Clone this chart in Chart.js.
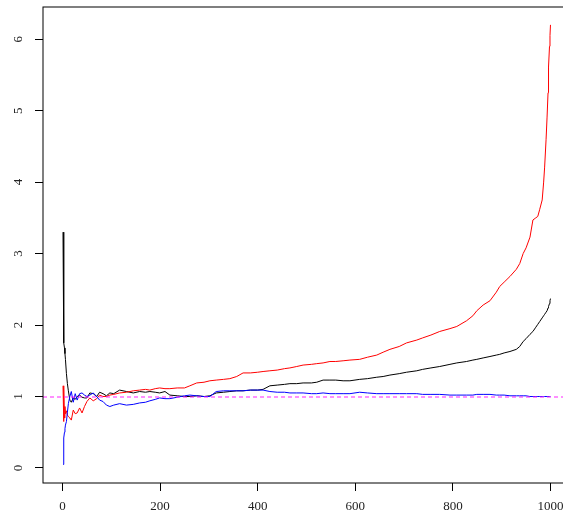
<!DOCTYPE html>
<html>
<head>
<meta charset="utf-8">
<script src="https://cdn.jsdelivr.net/npm/chart.js@4/dist/chart.umd.min.js"></script>
<style>
  html, body { margin: 0; padding: 0; background: #fff; overflow: hidden; }
  #wrap { width: 600px; height: 519px; }
</style>
</head>
<body>
<div id="wrap"><canvas id="c" width="600" height="519"></canvas></div>
<script>
const iters = [1, 2, 3, 4, 5, 6, 8, 10, 12, 15, 18, 22, 26, 30, 35, 40, 45, 50, 56, 63,
  70, 76, 83, 90, 97, 105, 117, 131, 145, 158, 170, 179, 190, 199, 210, 220, 235, 250, 261, 275,
  290, 302, 315, 330, 343, 357, 370, 385, 400, 411, 425, 440, 455, 466, 480, 493, 510, 521, 534, 548,
  560, 575, 589, 609, 625, 644, 657, 671, 690, 705, 726, 738, 755, 773, 794, 808, 828, 841, 849, 862,
  876, 889, 896, 905, 917, 930, 937, 944, 950, 958, 964, 970, 974, 978, 983, 986, 988, 991, 993, 995,
  996, 998, 999, 1000];

const blackVals = [3.30, 1.90, 1.75, 1.68, 1.60, 1.52, 1.32, 1.18, 1.08, 0.95, 0.92, 0.98, 0.96, 1.00, 1.02, 0.99, 0.98, 0.98, 1.05, 1.04,
  1.00, 1.06, 1.04, 1.01, 1.05, 1.04, 1.09, 1.07, 1.05, 1.07, 1.06, 1.07, 1.06, 1.05, 1.07, 1.02, 1.01, 1.00, 1.00, 1.01,
  1.00, 1.01, 1.05, 1.06, 1.07, 1.08, 1.08, 1.09, 1.09, 1.10, 1.15, 1.16, 1.17, 1.18, 1.18, 1.19, 1.19, 1.20, 1.23, 1.23,
  1.23, 1.22, 1.22, 1.24, 1.25, 1.27, 1.28, 1.30, 1.32, 1.34, 1.36, 1.38, 1.40, 1.42, 1.45, 1.47, 1.49, 1.51, 1.52, 1.54,
  1.56, 1.58, 1.59, 1.61, 1.63, 1.66, 1.70, 1.77, 1.81, 1.87, 1.91, 1.97, 2.01, 2.05, 2.10, 2.13, 2.15, 2.18, 2.20, 2.24,
  2.26, 2.30, 2.34, 2.37];

const redVals = [1.15, 0.65, 1.12, 0.70, 0.86, 0.76, 0.80, 0.74, 0.72, 0.70, 0.67, 0.81, 0.76, 0.77, 0.84, 0.77, 0.86, 0.93, 0.98, 0.94,
  0.97, 1.02, 1.00, 1.00, 1.02, 1.03, 1.05, 1.06, 1.08, 1.09, 1.10, 1.09, 1.11, 1.12, 1.11, 1.11, 1.12, 1.12, 1.15, 1.19,
  1.20, 1.22, 1.23, 1.24, 1.25, 1.28, 1.33, 1.33, 1.34, 1.35, 1.36, 1.37, 1.39, 1.40, 1.42, 1.44, 1.45, 1.46, 1.47, 1.49,
  1.49, 1.50, 1.51, 1.52, 1.55, 1.58, 1.62, 1.66, 1.70, 1.75, 1.79, 1.82, 1.86, 1.91, 1.95, 1.98, 2.06, 2.13, 2.20, 2.28,
  2.34, 2.46, 2.54, 2.60, 2.68, 2.78, 2.86, 3.00, 3.08, 3.23, 3.47, 3.50, 3.52, 3.62, 3.75, 4.00, 4.21, 4.60, 4.91, 5.25,
  5.61, 5.90, 6.05, 6.20];

const blueVals = [0.05, 0.30, 0.42, 0.50, 0.55, 0.60, 0.65, 0.78, 0.90, 1.00, 1.07, 0.92, 1.04, 0.95, 1.04, 1.05, 1.02, 1.00, 1.02, 1.05,
  1.00, 0.95, 0.93, 0.88, 0.86, 0.88, 0.90, 0.88, 0.89, 0.91, 0.92, 0.94, 0.96, 0.98, 0.97, 0.97, 0.99, 1.01, 1.02, 1.01,
  1.00, 1.00, 1.07, 1.08, 1.08, 1.08, 1.08, 1.09, 1.09, 1.09, 1.07, 1.06, 1.06, 1.05, 1.05, 1.05, 1.04, 1.04, 1.05, 1.04,
  1.04, 1.04, 1.04, 1.06, 1.05, 1.04, 1.04, 1.04, 1.04, 1.04, 1.04, 1.03, 1.03, 1.03, 1.02, 1.02, 1.02, 1.02, 1.03, 1.03,
  1.03, 1.02, 1.02, 1.02, 1.01, 1.01, 1.01, 1.01, 1.01, 1.00, 1.00, 1.00, 1.00, 1.00, 1.00, 1.00, 1.00, 1.00, 1.00, 1.00,
  1.00, 1.00, 1.00, 1.00];

const xTicks = [0, 200, 400, 600, 800, 1000];
const yTicks = [0, 1, 2, 3, 4, 5, 6];
const refLevel = 1;

const FONT = { family: "'Liberation Serif', 'DejaVu Serif', serif", size: 13 };
const toPoints = vals => vals.map((v, i) => ({ x: iters[i], y: v }));

// R-ish frame: box, rotated y labels, dashed reference line
const rFrame = {
  id: 'rFrame',
  afterDatasetsDraw(chart) {
    const { ctx, chartArea: a, scales } = chart;
    const y = Math.round(scales.y.getPixelForValue(refLevel));
    ctx.save();
    ctx.strokeStyle = '#ff22ff';
    ctx.lineWidth = 1.2;
    ctx.setLineDash([4, 3]);
    ctx.beginPath();
    ctx.moveTo(a.left, y);
    ctx.lineTo(a.right, y);
    ctx.stroke();
    ctx.restore();
  },
  afterDraw(chart) {
    const { ctx, chartArea: a, scales } = chart;
    ctx.save();
    ctx.strokeStyle = '#000';
    ctx.lineWidth = 1;
    ctx.strokeRect(a.left, a.top, a.right - a.left, a.bottom - a.top);

    ctx.fillStyle = '#222';
    ctx.font = FONT.size + 'px ' + FONT.family;
    ctx.textAlign = 'center';
    ctx.textBaseline = 'middle';
    yTicks.forEach(v => {
      const py = scales.y.getPixelForValue(v);
      ctx.save();
      ctx.translate(19, py);
      ctx.rotate(-Math.PI / 2);
      ctx.fillText(String(v), 0, 0);
      ctx.restore();
    });
    ctx.restore();
  }
};

const line = (data, color, order) => ({
  data: toPoints(data),
  borderColor: color,
  borderWidth: 1,
  pointRadius: 0,
  tension: 0,
  fill: false,
  order: order
});

new Chart(document.getElementById('c'), {
  type: 'line',
  data: {
    datasets: [
      line(blueVals, '#0000ff', 1),
      line(redVals, '#ff0000', 2),
      line(blackVals, '#000000', 3)
    ]
  },
  options: {
    responsive: false,
    animation: false,
    layout: { padding: { top: 7, right: 30, left: 0, bottom: 0 } },
    plugins: { legend: { display: false }, tooltip: { enabled: false } },
    scales: {
      x: {
        type: 'linear',
        min: -40,
        max: 1040,
        afterBuildTicks: s => { s.ticks = xTicks.map(v => ({ value: v })); },
        afterFit: s => { s.height = 36; },
        border: { display: false },
        grid: { drawOnChartArea: false, drawTicks: true, tickLength: 8, color: '#000' },
        ticks: { color: '#222', font: FONT, padding: 8, maxRotation: 0, autoSkip: false,
          callback: v => String(v) }
      },
      y: {
        type: 'linear',
        min: -0.21,
        max: 6.45,
        afterBuildTicks: s => { s.ticks = yTicks.map(v => ({ value: v })); },
        afterFit: s => { s.width = 43; },
        border: { display: false },
        grid: { drawOnChartArea: false, drawTicks: true, tickLength: 8, color: '#000' },
        ticks: { display: false }
      }
    }
  },
  plugins: [rFrame]
});
</script>
</body>
</html>
